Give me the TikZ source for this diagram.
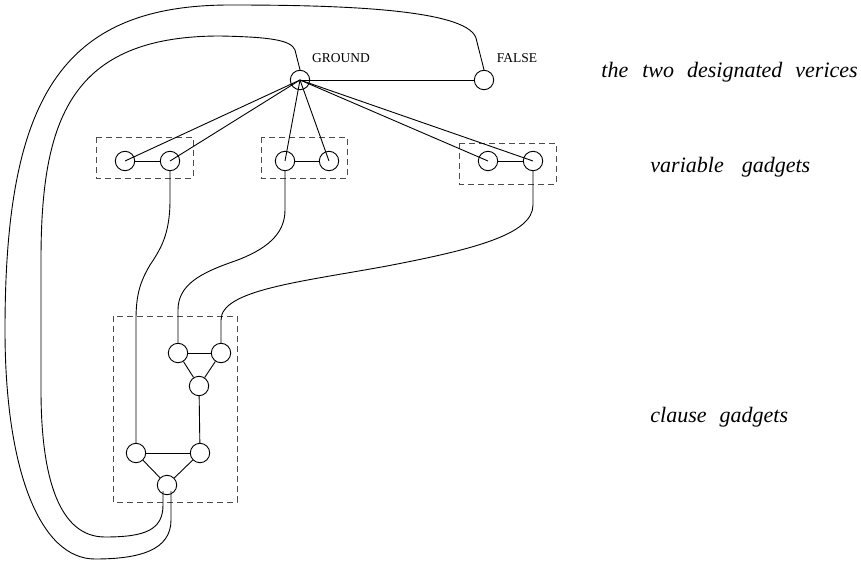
\documentclass[tikz,border=0pt]{standalone}
\usepackage{fontspec}
\setmainfont{Liberation Serif}
\begin{document}
\begin{tikzpicture}[x=1pt,y=-1pt,line width=0.9pt,
  vtx/.style={circle,draw,minimum size=19.4pt,inner sep=0pt},
  gbox/.style={draw=black!70,dash pattern=on 6pt off 4pt},
  lab/.style={font=\fontsize{13.5}{15}\selectfont,inner sep=0pt,anchor=base},
  note/.style={font=\fontsize{22}{26}\selectfont\itshape,inner sep=0pt,anchor=base west}]
\useasboundingbox (0,0) rectangle (861,564);

% designated vertices
\node[vtx] (G) at (300,80) {};
\node[vtx] (F) at (484,80) {};
\node[lab] (tG) at (341,63) {GROUND};
\node[lab] (tF) at (517,63) {FALSE};

% variable gadgets
\draw[gbox] (96,137) rectangle (193,178);
\draw[gbox] (261,137) rectangle (347,178);
\draw[gbox] (459,143) rectangle (556,184);
\node[vtx] (G1a) at (125,161) {};
\node[vtx] (G1b) at (170,161) {};
\node[vtx] (G2a) at (285,161) {};
\node[vtx] (G2b) at (329,161) {};
\node[vtx] (G3a) at (488,161) {};
\node[vtx] (G3b) at (533,161) {};

% clause gadget
\draw[gbox] (113,316) rectangle (237,502);
\node[vtx] (UL) at (178,353) {};
\node[vtx] (UR) at (221,353) {};
\node[vtx] (UM) at (199,386) {};
\node[vtx] (LL) at (136,453) {};
\node[vtx] (LR) at (200,453) {};
\node[vtx] (B)  at (167,485) {};

% labels on the right
\node[note] (n1) at (601,78) {the\hspace{14pt}two\hspace{13pt}designated\hspace{13pt}verices};
\node[note] (n2) at (650,172) {variable\hspace{18pt}gadgets};
\node[note] (n3) at (650,422) {clause\hspace{13pt}gadgets};

% edges from GROUND
\draw (G.center) -- (F);
\draw (G.center) -- (G1a.center);
\draw (G.center) -- (G1b.center);
\draw (G.center) -- (G2a.center);
\draw (G.center) -- (G2b.center);
\draw (G.center) -- (G3a.center);
\draw (G.center) -- (G3b.center);

% gadget internal edges
\draw (G1a) -- (G1b);
\draw (G2a) -- (G2b);
\draw (G3a) -- (G3b);
\draw (UL) -- (UR);
\draw (UL) -- (UM);
\draw (UR) -- (UM);
\draw (UM) -- (LR);
\draw (LL) -- (LR);
\draw (LL) -- (B);
\draw (LR) -- (B);

% variable -> clause connectors
\draw (G1b.south) -- (170,200) .. controls (170,235) and (160,250) .. (150,265)
      .. controls (140,282) and (136,295) .. (136,320) -- (LL);
\draw (G2a.south) -- (285,210) .. controls (285,235) and (265,250) .. (235,261)
      .. controls (200,273) and (178,285) .. (178,310) -- (UL);
\draw (G3b.south) -- (533,205) .. controls (533,235) and (470,250) .. (387,266)
      .. controls (300,282) and (221,290) .. (221,320) -- (UR);

% loops
\draw (G.north) -- (295,50) .. controls (291,40) and (270,37) .. (220,36)
      .. controls (70,36) and (41,120) .. (41,260) -- (41,390)
      .. controls (41,480) and (60,537) .. (105,537)
      .. controls (145,537) and (163,530) .. (163,505)
      -- ([xshift=-4pt,yshift=-6pt]B.center);
\draw (F.north) -- (476,38) .. controls (466,8) and (330,5) .. (230,5)
      .. controls (60,5) and (5,100) .. (5,330)
      .. controls (5,470) and (40,559) .. (95,559)
      .. controls (140,559) and (171,550) .. (171,520)
      -- ([xshift=4pt,yshift=-6pt]B.center);
\end{tikzpicture}
\end{document}
